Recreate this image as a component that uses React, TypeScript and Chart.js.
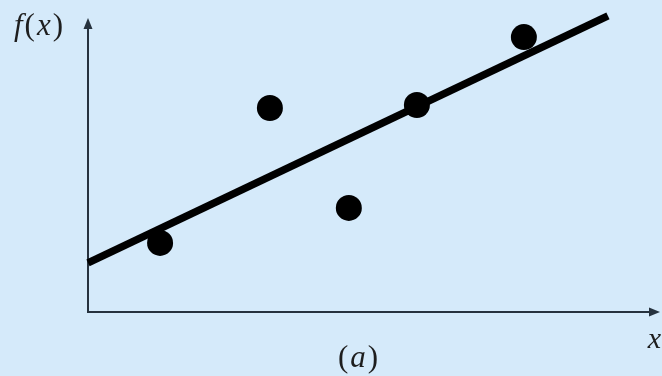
import React, { useEffect, useRef } from "react";
import { Chart, registerables } from "chart.js";

Chart.register(...registerables);

// Data points (arbitrary units)
const pointX = [1.26, 3.18, 4.56, 5.75, 7.62];
const pointY = [2.35, 6.94, 3.54, 7.04, 9.35];

// Fitted straight line endpoints
const lineX = [0, 9.09];
const lineY = [1.67, 10.07];

const yAxisLabel = "f(x)";
const xAxisLabel = "x";
const captionLabel = "(a)";

const BG = "rgb(213,234,250)";
const AXIS = "#26323e";
const SERIF = '"Liberation Serif", "DejaVu Serif", "Times New Roman", serif';

const axesPlugin = {
  id: "axesArrows",
  beforeDatasetsDraw(chart: any) {
    const { ctx, chartArea, scales } = chart;
    const x0 = scales.x.getPixelForValue(0);
    const y0 = scales.y.getPixelForValue(0);
    ctx.save();
    ctx.strokeStyle = AXIS;
    ctx.fillStyle = AXIS;
    ctx.lineWidth = 2;
    ctx.beginPath();
    ctx.moveTo(x0, y0 + 1);
    ctx.lineTo(x0, chartArea.top + 8);
    ctx.stroke();
    ctx.beginPath();
    ctx.moveTo(x0, chartArea.top);
    ctx.lineTo(x0 - 4.5, chartArea.top + 11);
    ctx.lineTo(x0 + 4.5, chartArea.top + 11);
    ctx.closePath();
    ctx.fill();
    ctx.beginPath();
    ctx.moveTo(x0 - 1, y0);
    ctx.lineTo(chartArea.right - 8, y0);
    ctx.stroke();
    ctx.beginPath();
    ctx.moveTo(chartArea.right, y0);
    ctx.lineTo(chartArea.right - 11, y0 - 4.5);
    ctx.lineTo(chartArea.right - 11, y0 + 4.5);
    ctx.closePath();
    ctx.fill();
    ctx.restore();
  },
  afterDraw(chart: any) {
    const { ctx, chartArea, scales } = chart;
    const x0 = scales.x.getPixelForValue(0);
    const y0 = scales.y.getPixelForValue(0);
    ctx.save();
    ctx.fillStyle = "#1e1e1e";
    ctx.textBaseline = "alphabetic";
    ctx.textAlign = "left";
    const drawSeq = (parts: { t: string; it: boolean }[], x: number, y: number, gap: number, size: number) => {
      let cx = x;
      for (const p of parts) {
        ctx.font = (p.it ? "italic " : "normal ") + size + "px " + SERIF;
        ctx.fillText(p.t, cx, y);
        cx += ctx.measureText(p.t).width + gap;
      }
    };
    drawSeq(
      [
        { t: yAxisLabel[0], it: true },
        { t: yAxisLabel[1], it: false },
        { t: yAxisLabel[2], it: true },
        { t: yAxisLabel[3], it: false },
      ],
      x0 - 74,
      chartArea.top + 17,
      2,
      31
    );
    ctx.font = "italic 30px " + SERIF;
    ctx.textAlign = "right";
    ctx.fillText(xAxisLabel, chartArea.right + 1, y0 + 36);
    ctx.textAlign = "left";
    drawSeq(
      [
        { t: captionLabel[0], it: false },
        { t: captionLabel[1], it: true },
        { t: captionLabel[2], it: false },
      ],
      338,
      y0 + 55,
      2,
      31
    );
    ctx.restore();
  },
};

export default function App() {
  const ref = useRef<HTMLCanvasElement | null>(null);
  useEffect(() => {
    document.body.style.margin = "0";
    document.body.style.background = BG;
    const canvas = ref.current!;
    const chart = new Chart(canvas, {
      type: "scatter",
      data: {
        datasets: [
          {
            type: "line",
            data: lineX.map((x, i) => ({ x, y: lineY[i] })),
            borderColor: "#000",
            borderWidth: 7.5,
            borderCapStyle: "butt",
            pointRadius: 0,
            clip: false,
            order: 2,
          } as any,
          {
            type: "scatter",
            data: pointX.map((x, i) => ({ x, y: pointY[i] })),
            backgroundColor: "#000",
            borderWidth: 0,
            pointRadius: 13,
            pointHoverRadius: 13,
            clip: false,
            order: 1,
          } as any,
        ],
      },
      options: {
        responsive: false,
        animation: false,
        events: [],
        layout: { autoPadding: false, padding: { left: 88, right: 2, top: 18, bottom: 64 } },
        plugins: { legend: { display: false }, tooltip: { enabled: false } },
        scales: {
          x: { type: "linear", min: 0, max: 10, display: false },
          y: { type: "linear", min: 0, max: 10, display: false },
        },
      },
      plugins: [axesPlugin],
    } as any);
    let alive = true;
    if ((document as any).fonts) {
      Promise.all([
        (document as any).fonts.load("italic 31px " + SERIF),
        (document as any).fonts.load("31px " + SERIF),
      ]).then(() => {
        if (alive) chart.draw();
      });
    }
    return () => {
      alive = false;
      chart.destroy();
    };
  }, []);
  return (
    <div style={{ position: "absolute", left: 0, top: 0, width: 662, height: 376, background: BG }}>
      <canvas ref={ref} width={662} height={376} style={{ display: "block" }} />
    </div>
  );
}
